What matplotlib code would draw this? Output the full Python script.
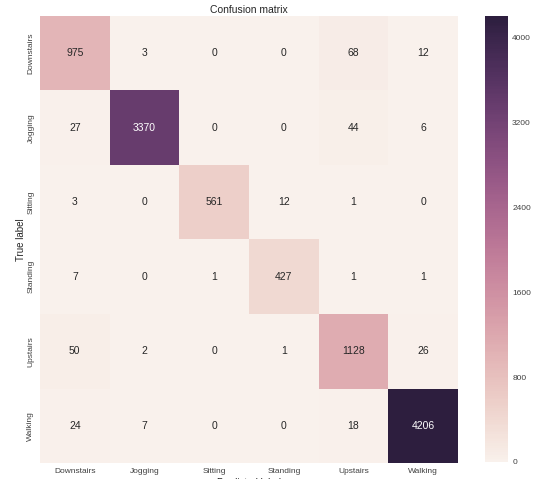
import numpy as np
import matplotlib
matplotlib.use("Agg")
import matplotlib.pyplot as plt
import seaborn as sns

# activity classes (rows = true label, cols = predicted label)
LABELS = ["Downstairs", "Jogging", "Sitting", "Standing", "Upstairs", "Walking"]

downstairs = [975, 3, 0, 0, 68, 12]
jogging = [27, 3370, 0, 0, 44, 6]
sitting = [3, 0, 561, 12, 1, 0]
standing = [7, 0, 1, 427, 1, 1]
upstairs = [50, 2, 0, 1, 1128, 26]
walking = [24, 7, 0, 0, 18, 4206]

cbar_ticks = [0, 800, 1600, 2400, 3200, 4000]

sns.set_style("white")
plt.rcParams['font.family'] = ['Liberation Sans', 'DejaVu Sans']

conf = np.array([downstairs, jogging, sitting, standing, upstairs, walking])

fig = plt.figure(figsize=(5.47, 4.79), dpi=100)
ax = fig.add_axes([0.0731, 0.0334, 0.7642, 0.9332])
cax = fig.add_axes([0.8867, 0.0355, 0.042, 0.931])

cmap = sns.cubehelix_palette(light=.95, as_cmap=True)
sns.heatmap(conf, annot=True, fmt="d", cmap=cmap, ax=ax, cbar_ax=cax,
            xticklabels=LABELS, yticklabels=LABELS,
            annot_kws={"size": 7.5})

ax.set_title("Confusion matrix", fontsize=7.5, pad=2, color=".15")
ax.set_ylabel("True label", fontsize=7, labelpad=1, color=".15")
ax.set_xlabel("Predicted label", fontsize=7, labelpad=2, color=".15")
ax.tick_params(axis="x", length=0, pad=3.5, labelsize=6, labelcolor=".25")
ax.tick_params(axis="y", length=0, pad=4, labelsize=6, labelcolor=".25")
plt.setp(ax.get_yticklabels(), rotation=90, va="center")
plt.setp(ax.get_xticklabels(), rotation=0)

cax.set_yticks(cbar_ticks)
cax.set_yticklabels([str(t) for t in cbar_ticks])
cax.tick_params(length=0, pad=3, labelsize=6, labelcolor=".25")
for sp in cax.spines.values():
    sp.set_visible(False)

fig.savefig("out.png", dpi=100)
